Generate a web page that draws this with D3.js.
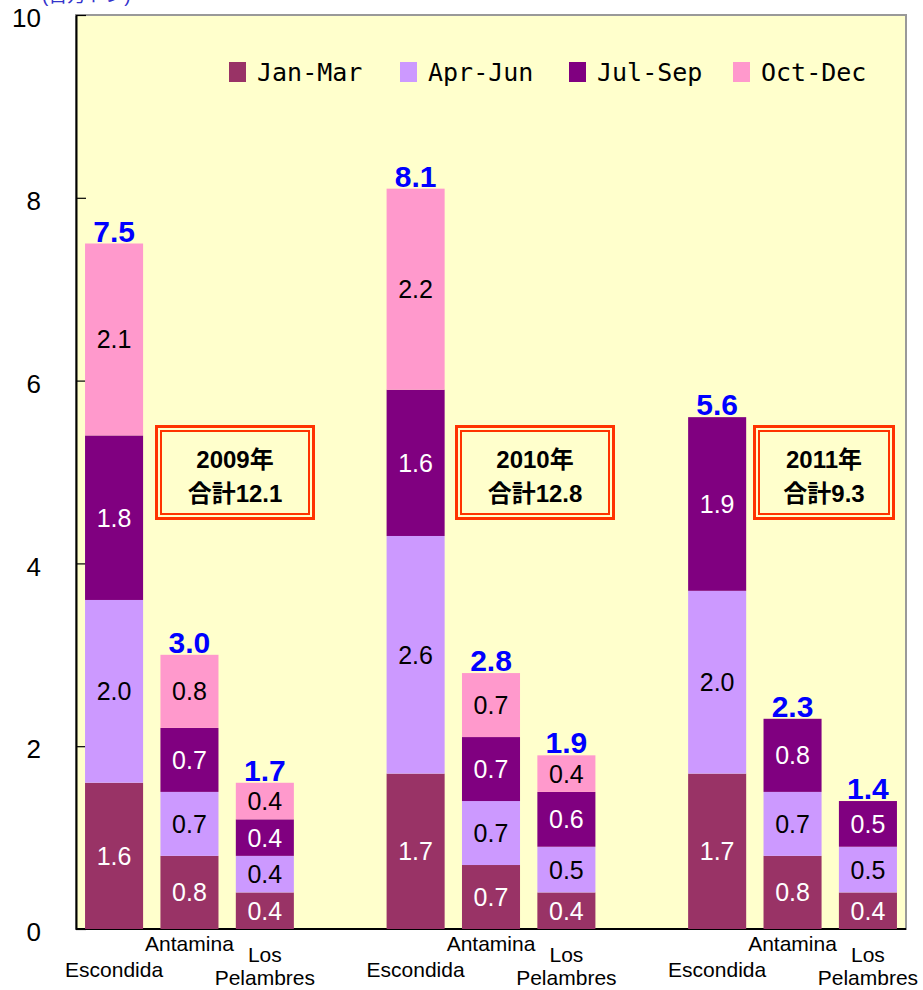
<!DOCTYPE html>
<html>
<head>
<meta charset="utf-8">
<script src="https://cdn.jsdelivr.net/npm/d3@7"></script>
<style>
  body { margin: 0; background: #FFFFFF; }
  svg { display: block; font-family: "Liberation Sans", Arial, "Noto Sans CJK JP", sans-serif; }
</style>
</head>
<body>
<svg id="chart" width="923" height="990"></svg>
<script>
const years = ["2009", "2010", "2011"];
const mines = ["Escondida", "Antamina", "Los Pelambres"];
const quarters = ["Jan-Mar", "Apr-Jun", "Jul-Sep", "Oct-Dec"];
// one value per bar, order: 2009 (Esc, Ant, LP), 2010 (...), 2011 (...)
const janMar = [1.6, 0.8, 0.4, 1.7, 0.7, 0.4, 1.7, 0.8, 0.4];
const aprJun = [2.0, 0.7, 0.4, 2.6, 0.7, 0.5, 2.0, 0.7, 0.5];
const julSep = [1.8, 0.7, 0.4, 1.6, 0.7, 0.6, 1.9, 0.8, 0.5];
const octDec = [2.1, 0.8, 0.4, 2.2, 0.7, 0.4, 0, 0, 0];
const barTotals = ["7.5", "3.0", "1.7", "8.1", "2.8", "1.9", "5.6", "2.3", "1.4"];
const yearTotals = ["12.1", "12.8", "9.3"];
const yTicks = [0, 2, 4, 6, 8, 10];

const colors = ["#993366", "#CC99FF", "#800080", "#FF99CC"];
const labelColors = ["#FFFFFF", "#000000", "#FFFFFF", "#000000"];

const svg = d3.select("#chart");
const plot = { left: 76, right: 906, top: 15, bottom: 929 };

// 11 slots: 3 bars per year, one empty slot between years
const x = d3.scaleBand()
    .domain(d3.range(11))
    .range([plot.left, plot.right])
    .paddingInner(0.23)
    .paddingOuter(0.12);
const y = d3.scaleLinear().domain([0, 10]).range([plot.bottom, plot.top]);

const rows = janMar.map((v, i) => ({
    slot: Math.floor(i / 3) * 4 + (i % 3),
    mine: mines[i % 3],
    total: barTotals[i],
    "Jan-Mar": v,
    "Apr-Jun": aprJun[i],
    "Jul-Sep": julSep[i],
    "Oct-Dec": octDec[i]
}));

// unit label, mostly off the top edge (as in the original)
svg.append("text")
    .attr("x", 42).attr("y", 2)
    .attr("font-size", 19)
    .attr("fill", "#3333CC")
    .text("(百万トン)");

// plot background
svg.append("rect")
    .attr("x", plot.left).attr("y", plot.top)
    .attr("width", plot.right - plot.left)
    .attr("height", plot.bottom - plot.top)
    .attr("fill", "#FFFFCC")
    .attr("stroke", "#999999")
    .attr("stroke-width", 2);

// y axis
const yAxis = svg.append("g")
    .attr("transform", `translate(${plot.left},0)`)
    .call(d3.axisLeft(y).tickValues(yTicks).tickSizeInner(-10).tickSizeOuter(0).tickPadding(35));
yAxis.select(".domain").attr("stroke", "#000").attr("stroke-width", 2);
yAxis.selectAll(".tick line").attr("stroke", "#000").attr("stroke-width", 1.2);
yAxis.selectAll(".tick text")
    .attr("font-size", 26)
    .style("font-family", "'Liberation Sans', Arial, sans-serif")
    .attr("fill", "#000")
    .attr("dy", "0.45em");

// x axis line
svg.append("line")
    .attr("x1", plot.left).attr("x2", plot.right)
    .attr("y1", plot.bottom).attr("y2", plot.bottom)
    .attr("stroke", "#000").attr("stroke-width", 2);

// stacked bars
const series = d3.stack().keys(quarters)(rows);
const layers = svg.append("g").selectAll("g")
    .data(series)
    .join("g")
    .attr("fill", (d, i) => colors[i]);

layers.selectAll("rect")
    .data(d => d.filter(s => s[1] - s[0] > 0))
    .join("rect")
    .attr("x", d => x(d.data.slot))
    .attr("y", d => y(d[1]))
    .attr("width", x.bandwidth())
    .attr("height", d => y(d[0]) - y(d[1]));

// segment labels
series.forEach((s, qi) => {
    svg.append("g").selectAll("text")
        .data(s.filter(d => d[1] - d[0] > 0))
        .join("text")
        .attr("x", d => x(d.data.slot) + x.bandwidth() / 2)
        .attr("y", d => y((d[0] + d[1]) / 2))
        .attr("dy", "0.36em")
        .attr("text-anchor", "middle")
        .attr("font-size", 25)
        .attr("fill", labelColors[qi])
        .text(d => d3.format(".1f")(d[1] - d[0]));
});

// bar totals
svg.append("g").selectAll("text")
    .data(rows)
    .join("text")
    .attr("x", d => x(d.slot) + x.bandwidth() / 2)
    .attr("y", d => y(d["Jan-Mar"] + d["Apr-Jun"] + d["Jul-Sep"] + d["Oct-Dec"]) - 2)
    .attr("text-anchor", "middle")
    .attr("font-size", 30)
    .attr("font-weight", "bold")
    .attr("fill", "#0000FF")
    .text(d => d.total);

// category labels, staggered like the original
const catLines = {
    "Escondida": [["Escondida", 977]],
    "Antamina": [["Antamina", 951]],
    "Los Pelambres": [["Los", 962], ["Pelambres", 985]]
};
rows.forEach(r => {
    catLines[r.mine].forEach(([t, ty]) => {
        svg.append("text")
            .attr("x", x(r.slot) + x.bandwidth() / 2)
            .attr("y", ty)
            .attr("text-anchor", "middle")
            .attr("font-size", 21)
            .attr("fill", "#000")
            .text(t);
    });
});

// legend
const legendX = [229, 400, 569, 733];
const legend = svg.append("g").selectAll("g")
    .data(quarters)
    .join("g")
    .attr("transform", (d, i) => `translate(${legendX[i]},0)`);
legend.append("rect")
    .attr("x", 0).attr("y", 62)
    .attr("width", 17).attr("height", 20)
    .attr("fill", (d, i) => colors[i]);
legend.append("text")
    .attr("x", 28).attr("y", 81)
    .style("font-family", "'DejaVu Sans Mono', monospace")
    .attr("font-size", 25)
    .attr("fill", "#000")
    .text(d => d);

// year total boxes
const boxX = [[155, 315], [455, 615], [753, 895]];
const boxTop = 425, boxBottom = 520;
years.forEach((yr, i) => {
    const [x0, x1] = boxX[i];
    const g = svg.append("g");
    g.append("rect")
        .attr("x", x0 + 1.5).attr("y", boxTop + 1.5)
        .attr("width", x1 - x0 - 3).attr("height", boxBottom - boxTop - 3)
        .attr("fill", "#FFFFCC")
        .attr("stroke", "#FF3300").attr("stroke-width", 3);
    g.append("rect")
        .attr("x", x0 + 6).attr("y", boxTop + 6)
        .attr("width", x1 - x0 - 12).attr("height", boxBottom - boxTop - 12)
        .attr("fill", "none")
        .attr("stroke", "#FF3300").attr("stroke-width", 2);
    const cx = (x0 + x1) / 2;
    g.append("text")
        .attr("x", cx).attr("y", 468)
        .attr("text-anchor", "middle")
        .attr("font-size", 24).attr("font-weight", "bold")
        .text(yr + "年");
    g.append("text")
        .attr("x", cx).attr("y", 502)
        .attr("text-anchor", "middle")
        .attr("font-size", 24).attr("font-weight", "bold")
        .text("合計" + yearTotals[i]);
});
</script>
</body>
</html>
